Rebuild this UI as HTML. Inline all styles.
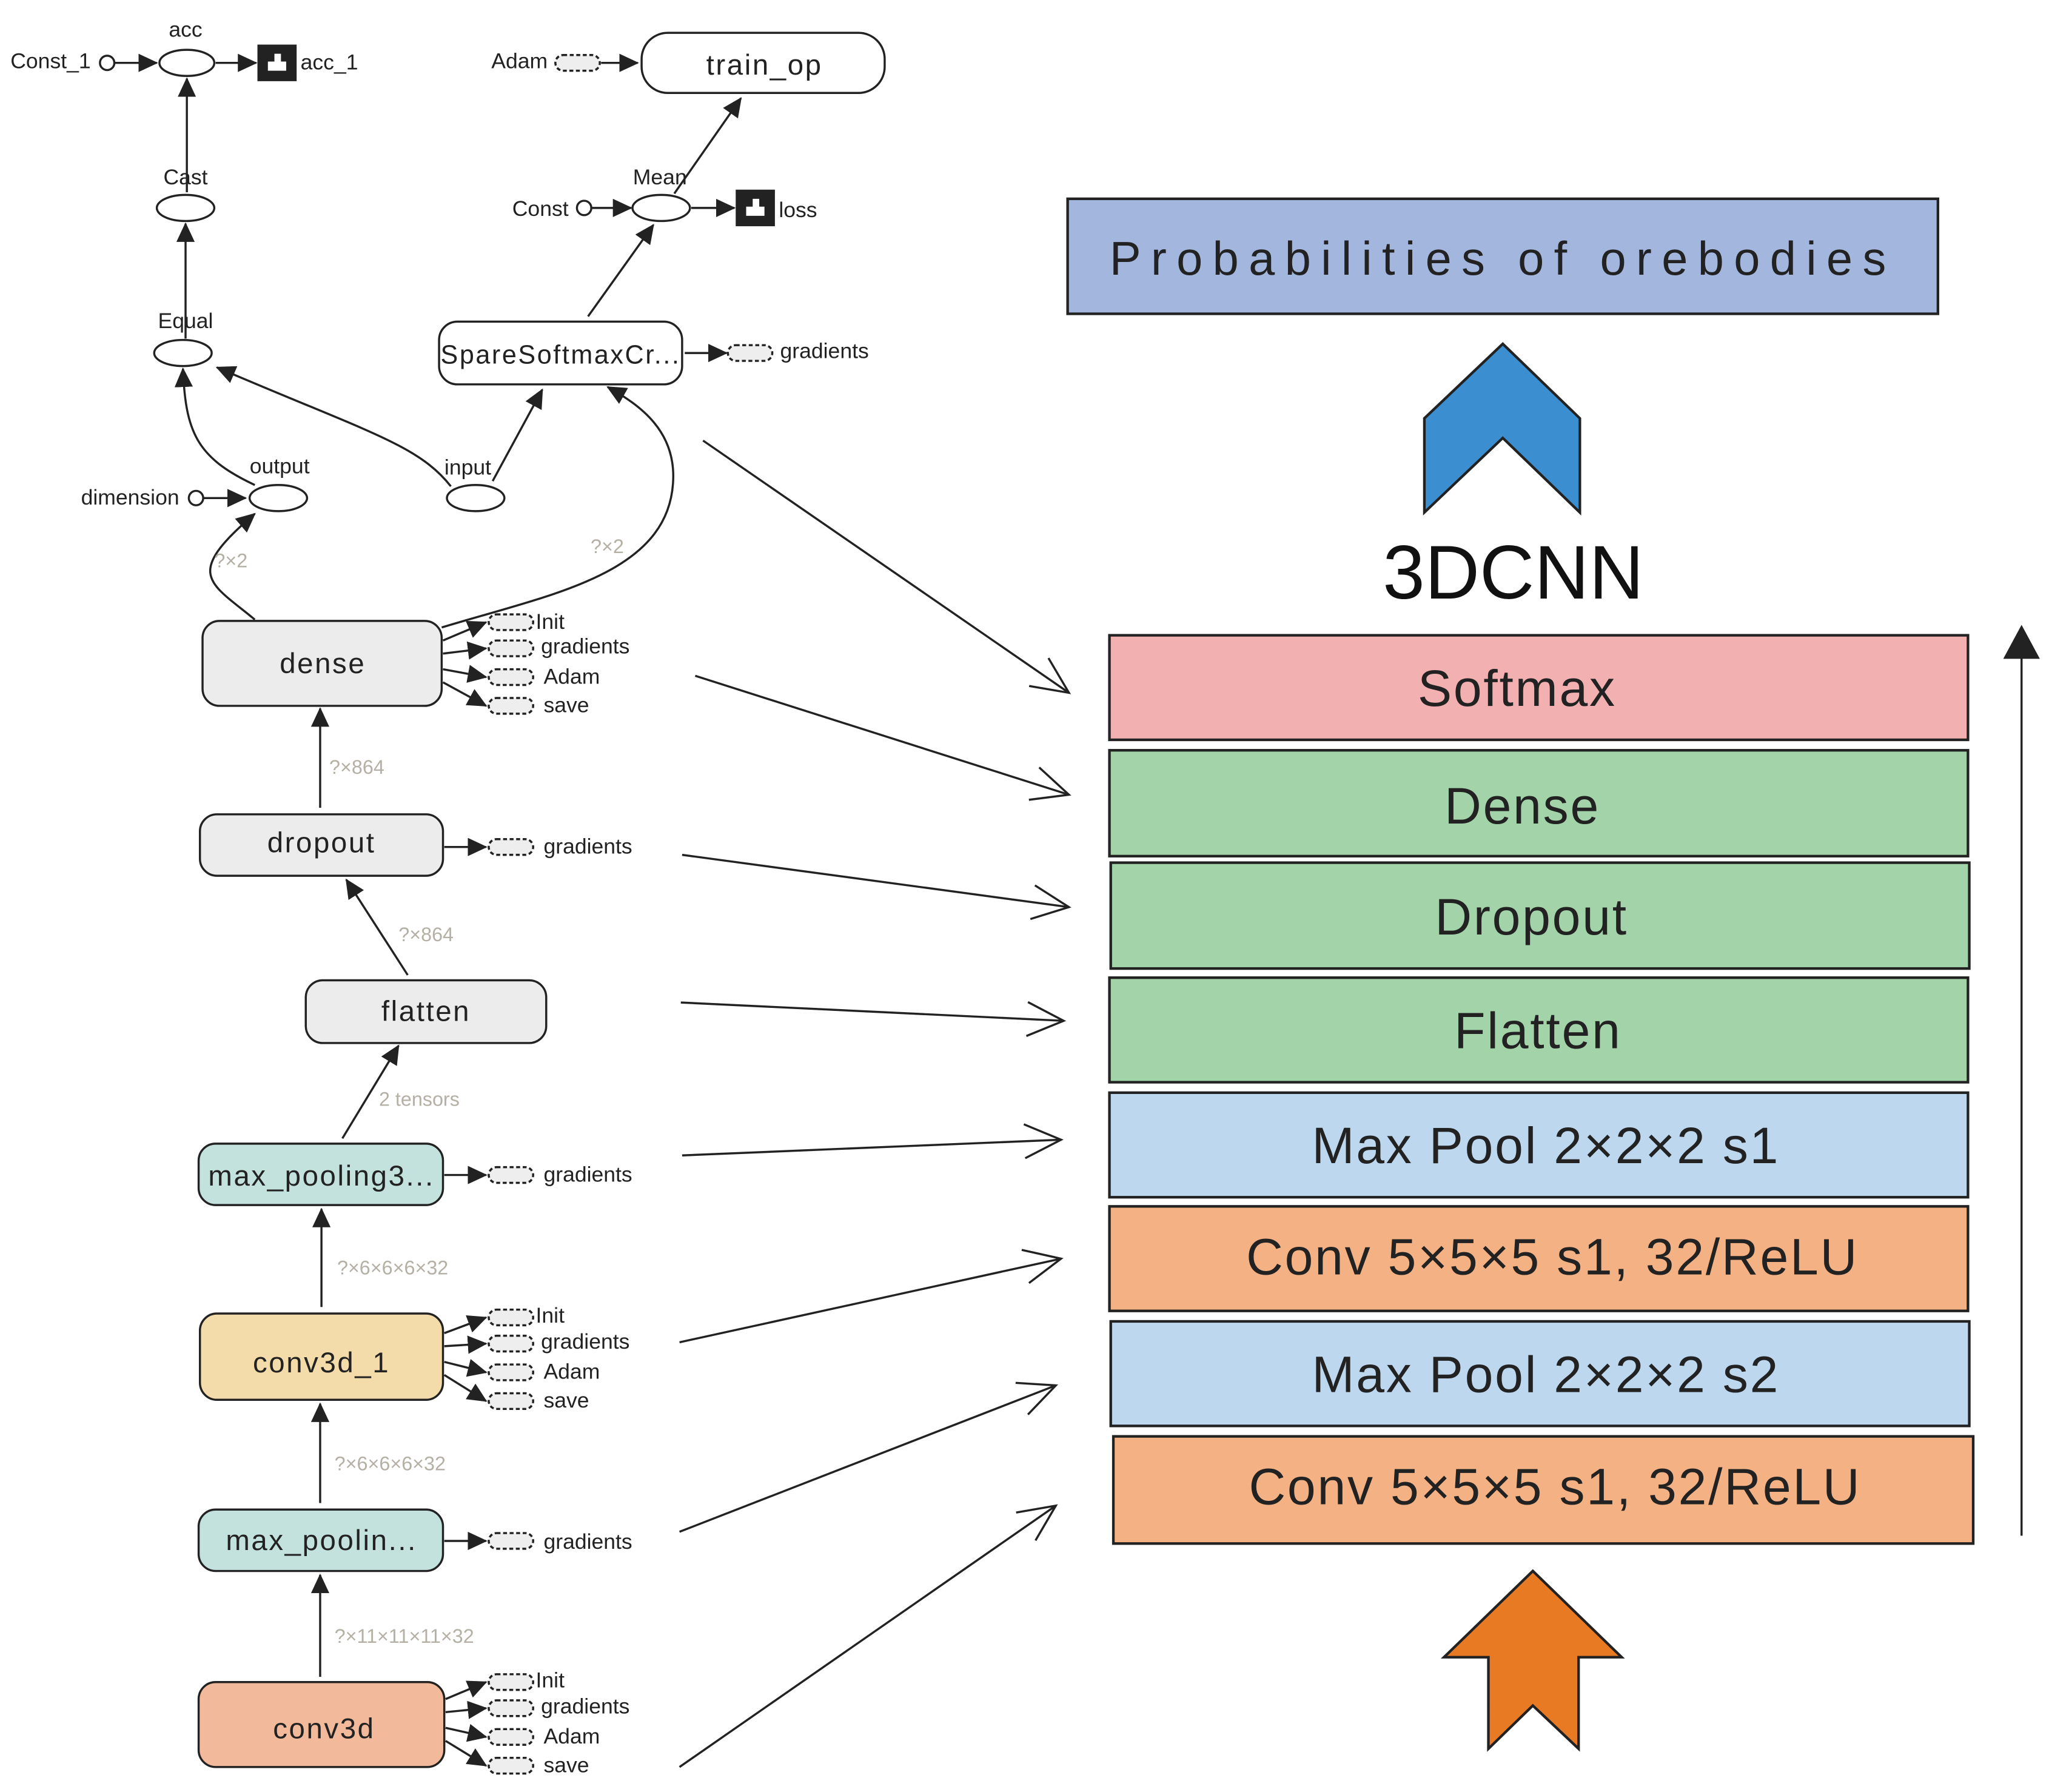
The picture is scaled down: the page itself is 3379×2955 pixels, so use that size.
<!DOCTYPE html>
<html><head><meta charset="utf-8"><style>
html,body{margin:0;padding:0;background:#fff;}
svg{display:block;}
text{font-family:"Liberation Sans",Arial,sans-serif;}
</style></head><body>
<svg width="3379" height="2955" viewBox="0 0 1568 1371" xmlns="http://www.w3.org/2000/svg">
<defs>
<marker id="fa" markerUnits="userSpaceOnUse" markerWidth="16" markerHeight="14" refX="14" refY="7" orient="auto"><path d="M0,0 L15,7 L0,14 z" fill="#222"/></marker>
<marker id="oa" markerUnits="userSpaceOnUse" markerWidth="34" markerHeight="34" refX="30" refY="17" orient="auto"><path d="M2,4 L30,17 L2,30" fill="none" stroke="#222" stroke-width="1.6"/></marker>
</defs>
<g stroke="#222" stroke-width="1.6" fill="none">
<circle cx="82" cy="48" r="5.5" fill="#fff"/>
<line x1="88" y1="48" x2="120" y2="48" marker-end="url(#fa)"/>
<ellipse cx="143" cy="48" rx="21" ry="10" fill="#fff"/>
<line x1="165" y1="48" x2="196" y2="48" marker-end="url(#fa)"/>
<line x1="143" y1="147" x2="143" y2="60" marker-end="url(#fa)"/>
<ellipse cx="142" cy="159" rx="22" ry="10" fill="#fff"/>
<line x1="142" y1="259" x2="142" y2="171" marker-end="url(#fa)"/>
<ellipse cx="140" cy="270" rx="22" ry="10" fill="#fff"/>
<rect x="425" y="42" width="34" height="12" rx="6" stroke-dasharray="3,2" fill="#eee"/>
<line x1="460" y1="48" x2="488" y2="48" marker-end="url(#fa)"/>
<rect x="491" y="25" width="186" height="46" rx="20" fill="#fff"/>
<circle cx="447" cy="159" r="5.5" fill="#fff"/>
<line x1="453" y1="159" x2="483" y2="159" marker-end="url(#fa)"/>
<ellipse cx="506" cy="159" rx="22" ry="10" fill="#fff"/>
<line x1="529" y1="159" x2="562" y2="159" marker-end="url(#fa)"/>
<line x1="516" y1="148" x2="567" y2="75" marker-end="url(#fa)"/>
<rect x="336" y="246" width="186" height="48" rx="14" fill="#fff"/>
<line x1="450" y1="242" x2="500" y2="172" marker-end="url(#fa)"/>
<line x1="524" y1="270" x2="556" y2="270" marker-end="url(#fa)"/>
<rect x="557" y="264" width="34" height="12" rx="6" stroke-dasharray="3,2" fill="#eee"/>
<ellipse cx="364" cy="381" rx="22" ry="10" fill="#fff"/>
<line x1="377" y1="368" x2="415" y2="298" marker-end="url(#fa)"/>
<path d="M345,372 C320,340 280,330 166,281" marker-end="url(#fa)"/>
<ellipse cx="213" cy="381" rx="22" ry="10" fill="#fff"/>
<circle cx="150" cy="381" r="5.5" fill="#fff"/>
<line x1="156" y1="381" x2="188" y2="381" marker-end="url(#fa)"/>
<path d="M195,371 C150,350 142,330 140,282" marker-end="url(#fa)"/>
<path d="M195,474 C160,445 140,440 195,393" marker-end="url(#fa)"/>
<path d="M338,480 C420,455 510,440 515,370 C518,330 490,310 465,296" marker-end="url(#fa)"/>
<rect x="155" y="475" width="183" height="65" rx="13" fill="#ececec"/>
<line x1="339" y1="490" x2="372" y2="476" marker-end="url(#fa)"/>
<line x1="339" y1="500" x2="372" y2="496" marker-end="url(#fa)"/>
<line x1="339" y1="512" x2="372" y2="518" marker-end="url(#fa)"/>
<line x1="339" y1="522" x2="372" y2="540" marker-end="url(#fa)"/>
<rect x="374" y="470" width="34" height="12" rx="6" stroke-dasharray="3,2" fill="#eee"/>
<rect x="374" y="490" width="34" height="12" rx="6" stroke-dasharray="3,2" fill="#eee"/>
<rect x="374" y="512" width="34" height="12" rx="6" stroke-dasharray="3,2" fill="#eee"/>
<rect x="374" y="534" width="34" height="12" rx="6" stroke-dasharray="3,2" fill="#eee"/>
<line x1="245" y1="618" x2="245" y2="542" marker-end="url(#fa)"/>
<rect x="153" y="623" width="186" height="47" rx="13" fill="#ececec"/>
<line x1="340" y1="648" x2="372" y2="648" marker-end="url(#fa)"/>
<rect x="374" y="642" width="34" height="12" rx="6" stroke-dasharray="3,2" fill="#eee"/>
<line x1="312" y1="746" x2="265" y2="673" marker-end="url(#fa)"/>
<rect x="234" y="750" width="184" height="48" rx="13" fill="#ececec"/>
<line x1="262" y1="871" x2="305" y2="800" marker-end="url(#fa)"/>
<rect x="152" y="875" width="187" height="47" rx="13" fill="#c3e1dd"/>
<line x1="340" y1="899" x2="372" y2="899" marker-end="url(#fa)"/>
<rect x="374" y="893" width="34" height="12" rx="6" stroke-dasharray="3,2" fill="#eee"/>
<line x1="246" y1="1000" x2="246" y2="925" marker-end="url(#fa)"/>
<rect x="153" y="1005" width="186" height="66" rx="13" fill="#f3dcaa"/>
<line x1="340" y1="1020" x2="372" y2="1008" marker-end="url(#fa)"/>
<line x1="340" y1="1030" x2="372" y2="1028" marker-end="url(#fa)"/>
<line x1="340" y1="1042" x2="372" y2="1050" marker-end="url(#fa)"/>
<line x1="340" y1="1052" x2="372" y2="1072" marker-end="url(#fa)"/>
<rect x="374" y="1002" width="34" height="12" rx="6" stroke-dasharray="3,2" fill="#eee"/>
<rect x="374" y="1022" width="34" height="12" rx="6" stroke-dasharray="3,2" fill="#eee"/>
<rect x="374" y="1044" width="34" height="12" rx="6" stroke-dasharray="3,2" fill="#eee"/>
<rect x="374" y="1066" width="34" height="12" rx="6" stroke-dasharray="3,2" fill="#eee"/>
<line x1="245" y1="1150" x2="245" y2="1074" marker-end="url(#fa)"/>
<rect x="152" y="1155" width="187" height="47" rx="13" fill="#c3e1dd"/>
<line x1="340" y1="1179" x2="372" y2="1179" marker-end="url(#fa)"/>
<rect x="374" y="1173" width="34" height="12" rx="6" stroke-dasharray="3,2" fill="#eee"/>
<line x1="245" y1="1283" x2="245" y2="1205" marker-end="url(#fa)"/>
<rect x="152" y="1287" width="188" height="65" rx="13" fill="#f2b99a"/>
<line x1="341" y1="1300" x2="372" y2="1287" marker-end="url(#fa)"/>
<line x1="341" y1="1310" x2="372" y2="1307" marker-end="url(#fa)"/>
<line x1="341" y1="1322" x2="372" y2="1329" marker-end="url(#fa)"/>
<line x1="341" y1="1332" x2="372" y2="1351" marker-end="url(#fa)"/>
<rect x="374" y="1281" width="34" height="12" rx="6" stroke-dasharray="3,2" fill="#eee"/>
<rect x="374" y="1301" width="34" height="12" rx="6" stroke-dasharray="3,2" fill="#eee"/>
<rect x="374" y="1323" width="34" height="12" rx="6" stroke-dasharray="3,2" fill="#eee"/>
<rect x="374" y="1345" width="34" height="12" rx="6" stroke-dasharray="3,2" fill="#eee"/>
<line x1="538" y1="337" x2="818" y2="530" marker-end="url(#oa)"/>
<line x1="532" y1="517" x2="818" y2="608" marker-end="url(#oa)"/>
<line x1="522" y1="654" x2="818" y2="694" marker-end="url(#oa)"/>
<line x1="521" y1="767" x2="814" y2="781" marker-end="url(#oa)"/>
<line x1="522" y1="884" x2="812" y2="872" marker-end="url(#oa)"/>
<line x1="520" y1="1027" x2="812" y2="963" marker-end="url(#oa)"/>
<line x1="520" y1="1172" x2="808" y2="1060" marker-end="url(#oa)"/>
<line x1="520" y1="1352" x2="808" y2="1152" marker-end="url(#oa)"/>
<rect x="817" y="152" width="666" height="88" fill="#a3b7de" stroke-width="2"/>
<polygon points="1090,320 1150,263 1209,320 1209,392 1150,335 1090,392" fill="#3b8ed0" stroke-width="2"/>
<rect x="849" y="486" width="657" height="80" fill="#f2b0b0" stroke-width="2"/>
<rect x="849" y="574" width="657" height="81" fill="#a3d3a8" stroke-width="2"/>
<rect x="850" y="660" width="657" height="81" fill="#a3d3a8" stroke-width="2"/>
<rect x="849" y="748" width="657" height="80" fill="#a3d3a8" stroke-width="2"/>
<rect x="849" y="836" width="657" height="80" fill="#bdd7ee" stroke-width="2"/>
<rect x="849" y="923" width="657" height="80" fill="#f4b183" stroke-width="2"/>
<rect x="850" y="1011" width="657" height="80" fill="#bdd7ee" stroke-width="2"/>
<rect x="852" y="1099" width="658" height="82" fill="#f4b183" stroke-width="2"/>
<line x1="1547" y1="1175" x2="1547" y2="500"/>
<polygon points="1547,478 1561,504 1533,504" fill="#222" stroke="none"/>
<polygon points="1105,1268 1173,1202 1241,1268 1208,1268 1208,1338 1173,1305 1139,1338 1139,1268" fill="#e87a23" stroke-width="2"/>
</g>
<g fill="#222" stroke="none">
<rect x="197" y="34" width="30" height="28"/>
<rect x="563" y="145" width="30" height="28"/>
<path d="M205,54 h14 v-7 h-4 v-6 h-5 v6 h-5 z" fill="#fff"/>
<path d="M571,165 h14 v-7 h-4 v-6 h-5 v6 h-5 z" fill="#fff"/>
</g>
<g font-size="16.5" fill="#222">
<text x="8" y="52">Const_1</text>
<text x="142" y="28" text-anchor="middle">acc</text>
<text x="230" y="53">acc_1</text>
<text x="142" y="141" text-anchor="middle">Cast</text>
<text x="142" y="251" text-anchor="middle">Equal</text>
<text x="376" y="52">Adam</text>
<text x="505" y="141" text-anchor="middle">Mean</text>
<text x="392" y="165">Const</text>
<text x="596" y="166">loss</text>
<text x="597" y="274">gradients</text>
<text x="358" y="363" text-anchor="middle">input</text>
<text x="214" y="362" text-anchor="middle">output</text>
<text x="62" y="386">dimension</text>
<text x="410" y="481">Init</text><text x="414" y="500">gradients</text><text x="416" y="523">Adam</text><text x="416" y="545">save</text>
<text x="416" y="653">gradients</text>
<text x="416" y="904">gradients</text>
<text x="410" y="1012">Init</text><text x="414" y="1032">gradients</text><text x="416" y="1055">Adam</text><text x="416" y="1077">save</text>
<text x="416" y="1185">gradients</text>
<text x="410" y="1291">Init</text><text x="414" y="1311">gradients</text><text x="416" y="1334">Adam</text><text x="416" y="1356">save</text>
</g>
<g font-size="15" fill="#b5b0a5">
<text x="164" y="434">?×2</text>
<text x="452" y="423">?×2</text>
<text x="252" y="592">?×864</text>
<text x="305" y="720">?×864</text>
<text x="290" y="846">2 tensors</text>
<text x="258" y="975">?×6×6×6×32</text>
<text x="256" y="1125">?×6×6×6×32</text>
<text x="256" y="1257">?×11×11×11×32</text>
</g>
<g font-size="22" fill="#222" text-anchor="middle" letter-spacing="1.2">
<text x="585" y="57">train_op</text>
<text x="429" y="278" font-size="20">SpareSoftmaxCr...</text>
<text x="247" y="515">dense</text>
<text x="246" y="652">dropout</text>
<text x="326" y="781">flatten</text>
<text x="246" y="907">max_pooling3...</text>
<text x="246" y="1050">conv3d_1</text>
<text x="246" y="1186">max_poolin...</text>
<text x="248" y="1330">conv3d</text>
</g>
<text x="1150" y="210" font-family="Liberation Serif,serif" font-size="36" letter-spacing="7.6" text-anchor="middle" fill="#222">Probabilities of orebodies</text>
<text x="1158" y="458" font-size="58" text-anchor="middle" fill="#111">3DCNN</text>
<g font-size="39" fill="#222" text-anchor="middle" letter-spacing="1.3">
<text x="1161" y="540">Softmax</text>
<text x="1165" y="630">Dense</text>
<text x="1172" y="715">Dropout</text>
<text x="1177" y="802">Flatten</text>
<text x="1183" y="890">Max Pool 2×2×2 s1</text>
<text x="1188" y="975">Conv 5×5×5 s1, 32/ReLU</text>
<text x="1183" y="1065">Max Pool 2×2×2 s2</text>
<text x="1190" y="1151">Conv 5×5×5 s1, 32/ReLU</text>
</g>
</svg>
</body></html>
